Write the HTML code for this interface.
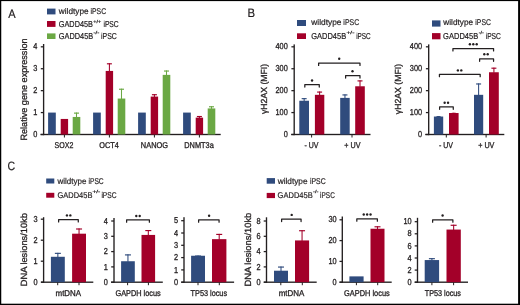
<!DOCTYPE html>
<html><head><meta charset="utf-8"><style>
html,body{margin:0;padding:0;background:#fff;}
svg{display:block;filter:blur(0.3px);}
text{font-family:"Liberation Sans", sans-serif;text-rendering:geometricPrecision;fill:#231f20;stroke:#231f20;stroke-width:0.3px;}
</style></head><body>
<svg width="520" height="305" viewBox="0 0 520 305">
<rect x="0" y="0" width="520" height="305" fill="#fff"/>
<text x="8.14" y="17.75" font-size="12.2" textLength="7.39" lengthAdjust="spacingAndGlyphs" style="stroke-width:0.2px">A</text>
<text x="247.48" y="17.45" font-size="12.1" textLength="7.57" lengthAdjust="spacingAndGlyphs" style="stroke-width:0.2px">B</text>
<text x="7.47" y="169.70" font-size="12.2" textLength="7.62" lengthAdjust="spacingAndGlyphs" style="stroke-width:0.2px">C</text>
<text x="58.85" y="14.10" font-size="8.3" textLength="29.72" lengthAdjust="spacingAndGlyphs" style="stroke-width:0.2px">wildtype</text>
<text x="90.51" y="14.10" font-size="8.3" textLength="15.60" lengthAdjust="spacingAndGlyphs" style="stroke-width:0.2px">iPSC</text>
<text x="58.84" y="26.60" font-size="8.6" textLength="34.07" lengthAdjust="spacingAndGlyphs" style="stroke-width:0.2px">GADD45B</text>
<text x="93.30" y="22.60" font-size="4.2" textLength="8.00" lengthAdjust="spacingAndGlyphs" style="stroke-width:0.22px">+/+</text>
<text x="103.40" y="26.60" font-size="8.6" textLength="15.30" lengthAdjust="spacingAndGlyphs" style="stroke-width:0.2px">iPSC</text>
<text x="58.85" y="38.90" font-size="8.6" textLength="34.29" lengthAdjust="spacingAndGlyphs" style="stroke-width:0.2px">GADD45B</text>
<text x="93.50" y="34.40" font-size="4.2" textLength="5.80" lengthAdjust="spacingAndGlyphs" style="stroke-width:0.22px">-/-</text>
<text x="100.98" y="38.90" font-size="8.6" textLength="15.80" lengthAdjust="spacingAndGlyphs" style="stroke-width:0.2px">iPSC</text>
<text x="311.37" y="25.20" font-size="8.3" textLength="30.02" lengthAdjust="spacingAndGlyphs" style="stroke-width:0.2px">wildtype</text>
<text x="343.36" y="25.20" font-size="8.3" textLength="15.80" lengthAdjust="spacingAndGlyphs" style="stroke-width:0.2px">iPSC</text>
<text x="311.14" y="39.10" font-size="8.6" textLength="35.01" lengthAdjust="spacingAndGlyphs" style="stroke-width:0.2px">GADD45B</text>
<text x="346.50" y="34.10" font-size="4.2" textLength="7.90" lengthAdjust="spacingAndGlyphs" style="stroke-width:0.22px">+/-</text>
<text x="356.21" y="39.10" font-size="8.6" textLength="14.50" lengthAdjust="spacingAndGlyphs" style="stroke-width:0.2px">iPSC</text>
<text x="443.34" y="25.30" font-size="8.3" textLength="29.70" lengthAdjust="spacingAndGlyphs" style="stroke-width:0.2px">wildtype</text>
<text x="475.34" y="25.30" font-size="8.3" textLength="15.60" lengthAdjust="spacingAndGlyphs" style="stroke-width:0.2px">iPSC</text>
<text x="443.10" y="39.10" font-size="8.6" textLength="35.16" lengthAdjust="spacingAndGlyphs" style="stroke-width:0.2px">GADD45B</text>
<text x="478.70" y="34.10" font-size="4.2" textLength="5.20" lengthAdjust="spacingAndGlyphs" style="stroke-width:0.22px">-/-</text>
<text x="485.67" y="39.10" font-size="8.6" textLength="15.20" lengthAdjust="spacingAndGlyphs" style="stroke-width:0.2px">iPSC</text>
<text x="57.50" y="183.60" font-size="8.4" textLength="28.90" lengthAdjust="spacingAndGlyphs" style="stroke-width:0.2px">wildtype</text>
<text x="88.49" y="183.60" font-size="8.4" textLength="15.20" lengthAdjust="spacingAndGlyphs" style="stroke-width:0.2px">iPSC</text>
<text x="57.51" y="197.50" font-size="8.4" textLength="34.88" lengthAdjust="spacingAndGlyphs" style="stroke-width:0.2px">GADD45B</text>
<text x="92.40" y="193.00" font-size="4.2" textLength="7.90" lengthAdjust="spacingAndGlyphs" style="stroke-width:0.22px">+/-</text>
<text x="101.39" y="197.50" font-size="8.4" textLength="15.20" lengthAdjust="spacingAndGlyphs" style="stroke-width:0.2px">iPSC</text>
<text x="277.69" y="183.60" font-size="8.4" textLength="29.89" lengthAdjust="spacingAndGlyphs" style="stroke-width:0.2px">wildtype</text>
<text x="309.93" y="183.60" font-size="8.4" textLength="15.70" lengthAdjust="spacingAndGlyphs" style="stroke-width:0.2px">iPSC</text>
<text x="277.60" y="197.50" font-size="8.4" textLength="35.09" lengthAdjust="spacingAndGlyphs" style="stroke-width:0.2px">GADD45B</text>
<text x="313.10" y="193.00" font-size="4.2" textLength="5.40" lengthAdjust="spacingAndGlyphs" style="stroke-width:0.22px">-/-</text>
<text x="320.10" y="197.50" font-size="8.4" textLength="14.70" lengthAdjust="spacingAndGlyphs" style="stroke-width:0.2px">iPSC</text>
<text x="54.59" y="148.20" font-size="8.4" textLength="18.82" lengthAdjust="spacingAndGlyphs">SOX2</text>
<text x="99.34" y="148.20" font-size="8.4" textLength="19.54" lengthAdjust="spacingAndGlyphs">OCT4</text>
<text x="140.87" y="148.20" font-size="8.4" textLength="27.22" lengthAdjust="spacingAndGlyphs">NANOG</text>
<text x="184.27" y="148.20" font-size="8.4" textLength="29.51" lengthAdjust="spacingAndGlyphs">DNMT3a</text>
<text x="304.45" y="148.00" font-size="8.4" textLength="13.98" lengthAdjust="spacingAndGlyphs">- UV</text>
<text x="344.28" y="148.00" font-size="8.4" textLength="16.15" lengthAdjust="spacingAndGlyphs">+ UV</text>
<text x="438.95" y="148.20" font-size="8.4" textLength="14.08" lengthAdjust="spacingAndGlyphs">- UV</text>
<text x="478.20" y="148.20" font-size="8.4" textLength="16.22" lengthAdjust="spacingAndGlyphs">+ UV</text>
<text x="55.55" y="296.00" font-size="8.4" textLength="25.57" lengthAdjust="spacingAndGlyphs">mtDNA</text>
<text x="115.43" y="296.00" font-size="8.4" textLength="45.36" lengthAdjust="spacingAndGlyphs">GAPDH locus</text>
<text x="190.57" y="296.00" font-size="8.4" textLength="36.49" lengthAdjust="spacingAndGlyphs">TP53 locus</text>
<text x="278.66" y="296.00" font-size="8.4" textLength="25.59" lengthAdjust="spacingAndGlyphs">mtDNA</text>
<text x="344.08" y="296.00" font-size="8.4" textLength="45.62" lengthAdjust="spacingAndGlyphs">GAPDH locus</text>
<text x="424.74" y="296.00" font-size="8.4" textLength="36.23" lengthAdjust="spacingAndGlyphs">TP53 locus</text>
<text transform="translate(26.60,140.54) rotate(-90)" font-size="9.1" textLength="102.08" lengthAdjust="spacingAndGlyphs">Relative gene expression</text>
<text transform="translate(267.00,114.00) rotate(-90)" font-size="8.8" textLength="50.13" lengthAdjust="spacingAndGlyphs">&#947;H2AX (MFI)</text>
<text transform="translate(401.20,114.21) rotate(-90)" font-size="8.8" textLength="50.33" lengthAdjust="spacingAndGlyphs">&#947;H2AX (MFI)</text>
<text transform="translate(27.30,286.24) rotate(-90)" font-size="9.0" textLength="73.16" lengthAdjust="spacingAndGlyphs">DNA lesions/10kb</text>
<text transform="translate(251.40,286.45) rotate(-90)" font-size="9.0" textLength="73.75" lengthAdjust="spacingAndGlyphs">DNA lesions/10kb</text>
<text x="37.30" y="137.15" font-size="8.6" textLength="4.10" lengthAdjust="spacingAndGlyphs" text-anchor="end">0</text>
<text x="37.30" y="115.23" font-size="8.6" textLength="4.10" lengthAdjust="spacingAndGlyphs" text-anchor="end">1</text>
<text x="37.30" y="93.31" font-size="8.6" textLength="4.10" lengthAdjust="spacingAndGlyphs" text-anchor="end">2</text>
<text x="37.30" y="71.39" font-size="8.6" textLength="4.10" lengthAdjust="spacingAndGlyphs" text-anchor="end">3</text>
<text x="37.30" y="49.47" font-size="8.6" textLength="4.10" lengthAdjust="spacingAndGlyphs" text-anchor="end">4</text>
<text x="287.80" y="137.15" font-size="8.6" textLength="4.10" lengthAdjust="spacingAndGlyphs" text-anchor="end">0</text>
<text x="287.80" y="115.23" font-size="8.6" textLength="12.30" lengthAdjust="spacingAndGlyphs" text-anchor="end">100</text>
<text x="287.80" y="93.31" font-size="8.6" textLength="12.30" lengthAdjust="spacingAndGlyphs" text-anchor="end">200</text>
<text x="287.80" y="71.39" font-size="8.6" textLength="12.30" lengthAdjust="spacingAndGlyphs" text-anchor="end">300</text>
<text x="287.80" y="49.47" font-size="8.6" textLength="12.30" lengthAdjust="spacingAndGlyphs" text-anchor="end">400</text>
<text x="422.10" y="137.15" font-size="8.6" textLength="4.10" lengthAdjust="spacingAndGlyphs" text-anchor="end">0</text>
<text x="422.10" y="115.23" font-size="8.6" textLength="12.30" lengthAdjust="spacingAndGlyphs" text-anchor="end">100</text>
<text x="422.10" y="93.31" font-size="8.6" textLength="12.30" lengthAdjust="spacingAndGlyphs" text-anchor="end">200</text>
<text x="422.10" y="71.39" font-size="8.6" textLength="12.30" lengthAdjust="spacingAndGlyphs" text-anchor="end">300</text>
<text x="422.10" y="49.47" font-size="8.6" textLength="12.30" lengthAdjust="spacingAndGlyphs" text-anchor="end">400</text>
<text x="37.60" y="284.85" font-size="8.6" textLength="4.10" lengthAdjust="spacingAndGlyphs" text-anchor="end">0</text>
<text x="37.60" y="263.85" font-size="8.6" textLength="4.10" lengthAdjust="spacingAndGlyphs" text-anchor="end">1</text>
<text x="37.60" y="242.85" font-size="8.6" textLength="4.10" lengthAdjust="spacingAndGlyphs" text-anchor="end">2</text>
<text x="37.60" y="221.85" font-size="8.6" textLength="4.10" lengthAdjust="spacingAndGlyphs" text-anchor="end">3</text>
<text x="107.90" y="284.85" font-size="8.6" textLength="4.10" lengthAdjust="spacingAndGlyphs" text-anchor="end">0</text>
<text x="107.90" y="269.55" font-size="8.6" textLength="4.10" lengthAdjust="spacingAndGlyphs" text-anchor="end">1</text>
<text x="107.90" y="254.25" font-size="8.6" textLength="4.10" lengthAdjust="spacingAndGlyphs" text-anchor="end">2</text>
<text x="107.90" y="238.95" font-size="8.6" textLength="4.10" lengthAdjust="spacingAndGlyphs" text-anchor="end">3</text>
<text x="107.90" y="223.65" font-size="8.6" textLength="4.10" lengthAdjust="spacingAndGlyphs" text-anchor="end">4</text>
<text x="178.20" y="284.85" font-size="8.6" textLength="4.10" lengthAdjust="spacingAndGlyphs" text-anchor="end">0</text>
<text x="178.20" y="272.55" font-size="8.6" textLength="4.10" lengthAdjust="spacingAndGlyphs" text-anchor="end">1</text>
<text x="178.20" y="260.25" font-size="8.6" textLength="4.10" lengthAdjust="spacingAndGlyphs" text-anchor="end">2</text>
<text x="178.20" y="247.95" font-size="8.6" textLength="4.10" lengthAdjust="spacingAndGlyphs" text-anchor="end">3</text>
<text x="178.20" y="235.65" font-size="8.6" textLength="4.10" lengthAdjust="spacingAndGlyphs" text-anchor="end">4</text>
<text x="178.20" y="223.35" font-size="8.6" textLength="4.10" lengthAdjust="spacingAndGlyphs" text-anchor="end">5</text>
<text x="260.60" y="284.85" font-size="8.6" textLength="4.10" lengthAdjust="spacingAndGlyphs" text-anchor="end">0</text>
<text x="260.60" y="269.55" font-size="8.6" textLength="4.10" lengthAdjust="spacingAndGlyphs" text-anchor="end">2</text>
<text x="260.60" y="254.25" font-size="8.6" textLength="4.10" lengthAdjust="spacingAndGlyphs" text-anchor="end">4</text>
<text x="260.60" y="238.95" font-size="8.6" textLength="4.10" lengthAdjust="spacingAndGlyphs" text-anchor="end">6</text>
<text x="260.60" y="223.65" font-size="8.6" textLength="4.10" lengthAdjust="spacingAndGlyphs" text-anchor="end">8</text>
<text x="336.70" y="284.85" font-size="8.6" textLength="4.10" lengthAdjust="spacingAndGlyphs" text-anchor="end">0</text>
<text x="336.70" y="264.05" font-size="8.6" textLength="8.20" lengthAdjust="spacingAndGlyphs" text-anchor="end">10</text>
<text x="336.70" y="243.25" font-size="8.6" textLength="8.20" lengthAdjust="spacingAndGlyphs" text-anchor="end">20</text>
<text x="336.70" y="222.45" font-size="8.6" textLength="8.20" lengthAdjust="spacingAndGlyphs" text-anchor="end">30</text>
<text x="411.70" y="284.85" font-size="8.6" textLength="4.10" lengthAdjust="spacingAndGlyphs" text-anchor="end">0</text>
<text x="411.70" y="272.75" font-size="8.6" textLength="4.10" lengthAdjust="spacingAndGlyphs" text-anchor="end">2</text>
<text x="411.70" y="260.65" font-size="8.6" textLength="4.10" lengthAdjust="spacingAndGlyphs" text-anchor="end">4</text>
<text x="411.70" y="248.55" font-size="8.6" textLength="4.10" lengthAdjust="spacingAndGlyphs" text-anchor="end">6</text>
<text x="411.70" y="236.45" font-size="8.6" textLength="4.10" lengthAdjust="spacingAndGlyphs" text-anchor="end">8</text>
<text x="411.70" y="224.35" font-size="8.6" textLength="8.20" lengthAdjust="spacingAndGlyphs" text-anchor="end">10</text>
<rect x="47.00" y="8.60" width="8.50" height="5.80" fill="#2f4b7d"/>
<rect x="47.00" y="21.00" width="8.50" height="5.90" fill="#a30029"/>
<rect x="47.00" y="33.40" width="8.50" height="5.60" fill="#6ba844"/>
<rect x="297.00" y="20.00" width="9.00" height="6.00" fill="#2f4b7d"/>
<rect x="297.00" y="33.30" width="9.00" height="5.70" fill="#a30029"/>
<rect x="432.00" y="20.40" width="8.50" height="6.20" fill="#2f4b7d"/>
<rect x="432.00" y="33.10" width="8.50" height="6.20" fill="#a30029"/>
<rect x="46.20" y="178.50" width="8.10" height="5.00" fill="#2f4b7d"/>
<rect x="46.20" y="192.80" width="8.10" height="4.90" fill="#a30029"/>
<rect x="266.70" y="178.10" width="8.30" height="5.60" fill="#2f4b7d"/>
<rect x="266.70" y="192.90" width="8.30" height="5.20" fill="#a30029"/>
<rect x="42.93" y="44.00" width="1.35" height="91.18" fill="#231f20"/>
<rect x="40.80" y="133.88" width="2.80" height="1.25" fill="#231f20"/>
<rect x="40.80" y="111.95" width="2.80" height="1.25" fill="#231f20"/>
<rect x="40.80" y="90.03" width="2.80" height="1.25" fill="#231f20"/>
<rect x="40.80" y="68.11" width="2.80" height="1.25" fill="#231f20"/>
<rect x="40.80" y="46.19" width="2.80" height="1.25" fill="#231f20"/>
<rect x="40.50" y="133.82" width="180.20" height="1.35" fill="#231f20"/>
<rect x="63.90" y="134.50" width="1.00" height="3.00" fill="#231f20"/>
<rect x="108.90" y="134.50" width="1.00" height="3.00" fill="#231f20"/>
<rect x="153.90" y="134.50" width="1.00" height="3.00" fill="#231f20"/>
<rect x="198.90" y="134.50" width="1.00" height="3.00" fill="#231f20"/>
<rect x="48.10" y="112.58" width="7.70" height="21.92" fill="#2f4b7d"/>
<rect x="60.70" y="118.94" width="7.40" height="15.56" fill="#a30029"/>
<rect x="72.70" y="116.96" width="7.60" height="17.54" fill="#6ba844"/>
<rect x="75.97" y="112.58" width="1.05" height="4.88" fill="#6ba844"/>
<rect x="74.00" y="112.55" width="5.00" height="1.15" fill="#6ba844"/>
<rect x="93.10" y="112.58" width="7.70" height="21.92" fill="#2f4b7d"/>
<rect x="105.70" y="70.93" width="7.40" height="63.57" fill="#a30029"/>
<rect x="108.88" y="63.26" width="1.05" height="8.17" fill="#a30029"/>
<rect x="106.90" y="63.23" width="5.00" height="1.15" fill="#a30029"/>
<rect x="117.70" y="98.55" width="7.60" height="35.95" fill="#6ba844"/>
<rect x="120.97" y="88.69" width="1.05" height="10.36" fill="#6ba844"/>
<rect x="119.00" y="88.66" width="5.00" height="1.15" fill="#6ba844"/>
<rect x="138.10" y="112.58" width="7.70" height="21.92" fill="#2f4b7d"/>
<rect x="150.70" y="96.58" width="7.40" height="37.92" fill="#a30029"/>
<rect x="153.87" y="94.17" width="1.05" height="2.91" fill="#a30029"/>
<rect x="151.90" y="94.14" width="5.00" height="1.15" fill="#a30029"/>
<rect x="162.70" y="74.88" width="7.60" height="59.62" fill="#6ba844"/>
<rect x="165.97" y="70.49" width="1.05" height="4.88" fill="#6ba844"/>
<rect x="164.00" y="70.47" width="5.00" height="1.15" fill="#6ba844"/>
<rect x="183.10" y="112.58" width="7.70" height="21.92" fill="#2f4b7d"/>
<rect x="195.70" y="117.62" width="7.40" height="16.88" fill="#a30029"/>
<rect x="198.87" y="115.98" width="1.05" height="2.14" fill="#a30029"/>
<rect x="196.90" y="115.95" width="5.00" height="1.15" fill="#a30029"/>
<rect x="207.70" y="108.42" width="7.60" height="26.08" fill="#6ba844"/>
<rect x="210.97" y="106.22" width="1.05" height="2.69" fill="#6ba844"/>
<rect x="209.00" y="106.20" width="5.00" height="1.15" fill="#6ba844"/>
<rect x="293.52" y="44.40" width="1.35" height="90.78" fill="#231f20"/>
<rect x="291.40" y="133.88" width="2.80" height="1.25" fill="#231f20"/>
<rect x="291.40" y="111.95" width="2.80" height="1.25" fill="#231f20"/>
<rect x="291.40" y="90.03" width="2.80" height="1.25" fill="#231f20"/>
<rect x="291.40" y="68.11" width="2.80" height="1.25" fill="#231f20"/>
<rect x="291.40" y="46.19" width="2.80" height="1.25" fill="#231f20"/>
<rect x="291.20" y="133.82" width="79.30" height="1.35" fill="#231f20"/>
<rect x="311.10" y="134.50" width="1.00" height="3.00" fill="#231f20"/>
<rect x="351.50" y="134.50" width="1.00" height="3.00" fill="#231f20"/>
<rect x="299.30" y="100.74" width="9.70" height="33.76" fill="#2f4b7d"/>
<rect x="303.62" y="98.11" width="1.05" height="3.13" fill="#2f4b7d"/>
<rect x="301.65" y="98.09" width="5.00" height="1.15" fill="#2f4b7d"/>
<rect x="314.90" y="94.82" width="9.40" height="39.68" fill="#a30029"/>
<rect x="319.08" y="91.54" width="1.05" height="3.79" fill="#a30029"/>
<rect x="317.10" y="91.51" width="5.00" height="1.15" fill="#a30029"/>
<rect x="340.20" y="97.89" width="9.50" height="36.61" fill="#2f4b7d"/>
<rect x="344.43" y="94.39" width="1.05" height="4.01" fill="#2f4b7d"/>
<rect x="342.45" y="94.36" width="5.00" height="1.15" fill="#2f4b7d"/>
<rect x="355.20" y="86.28" width="9.60" height="48.22" fill="#a30029"/>
<rect x="359.48" y="80.36" width="1.05" height="6.42" fill="#a30029"/>
<rect x="357.50" y="80.33" width="5.00" height="1.15" fill="#a30029"/>
<path d="M304.82,87.00 L304.82,84.60 L319.27,84.60 L319.27,87.00" fill="none" stroke="#231f20" stroke-width="1.25" stroke-linejoin="round" stroke-linecap="round"/>
<circle cx="312.05" cy="80.55" r="1.2" fill="#231f20"/>
<path d="M318.62,65.40 L318.62,63.00 L359.98,63.00 L359.98,65.40" fill="none" stroke="#231f20" stroke-width="1.25" stroke-linejoin="round" stroke-linecap="round"/>
<circle cx="339.20" cy="58.70" r="1.2" fill="#231f20"/>
<path d="M345.62,78.00 L345.62,75.60 L359.98,75.60 L359.98,78.00" fill="none" stroke="#231f20" stroke-width="1.25" stroke-linejoin="round" stroke-linecap="round"/>
<circle cx="352.50" cy="71.20" r="1.2" fill="#231f20"/>
<rect x="428.02" y="44.40" width="1.35" height="90.78" fill="#231f20"/>
<rect x="425.90" y="133.88" width="2.80" height="1.25" fill="#231f20"/>
<rect x="425.90" y="111.95" width="2.80" height="1.25" fill="#231f20"/>
<rect x="425.90" y="90.03" width="2.80" height="1.25" fill="#231f20"/>
<rect x="425.90" y="68.11" width="2.80" height="1.25" fill="#231f20"/>
<rect x="425.90" y="46.19" width="2.80" height="1.25" fill="#231f20"/>
<rect x="425.20" y="133.82" width="79.10" height="1.35" fill="#231f20"/>
<rect x="445.80" y="134.50" width="1.00" height="3.00" fill="#231f20"/>
<rect x="485.60" y="134.50" width="1.00" height="3.00" fill="#231f20"/>
<rect x="433.90" y="116.53" width="9.30" height="17.97" fill="#2f4b7d"/>
<rect x="438.02" y="116.09" width="1.05" height="0.94" fill="#2f4b7d"/>
<rect x="436.55" y="116.06" width="4.00" height="1.15" fill="#2f4b7d"/>
<rect x="449.00" y="113.02" width="9.60" height="21.48" fill="#a30029"/>
<rect x="453.28" y="112.80" width="1.05" height="0.72" fill="#a30029"/>
<rect x="451.80" y="112.77" width="4.00" height="1.15" fill="#a30029"/>
<rect x="474.00" y="94.82" width="9.20" height="39.68" fill="#2f4b7d"/>
<rect x="478.08" y="83.43" width="1.05" height="11.90" fill="#2f4b7d"/>
<rect x="476.10" y="83.40" width="5.00" height="1.15" fill="#2f4b7d"/>
<rect x="489.00" y="72.25" width="9.80" height="62.25" fill="#a30029"/>
<rect x="493.38" y="67.64" width="1.05" height="5.10" fill="#a30029"/>
<rect x="491.40" y="67.62" width="5.00" height="1.15" fill="#a30029"/>
<path d="M439.62,109.30 L439.62,106.90 L453.27,106.90 L453.27,109.30" fill="none" stroke="#231f20" stroke-width="1.25" stroke-linejoin="round" stroke-linecap="round"/>
<circle cx="444.65" cy="102.70" r="1.2" fill="#231f20"/>
<circle cx="448.05" cy="102.70" r="1.2" fill="#231f20"/>
<path d="M439.43,76.70 L439.43,74.30 L480.18,74.30 L480.18,76.70" fill="none" stroke="#231f20" stroke-width="1.25" stroke-linejoin="round" stroke-linecap="round"/>
<circle cx="457.90" cy="70.40" r="1.2" fill="#231f20"/>
<circle cx="461.30" cy="70.40" r="1.2" fill="#231f20"/>
<path d="M452.93,50.90 L452.93,48.50 L493.57,48.50 L493.57,50.90" fill="none" stroke="#231f20" stroke-width="1.25" stroke-linejoin="round" stroke-linecap="round"/>
<circle cx="469.90" cy="44.25" r="1.2" fill="#231f20"/>
<circle cx="473.30" cy="44.25" r="1.2" fill="#231f20"/>
<circle cx="476.70" cy="44.25" r="1.2" fill="#231f20"/>
<path d="M479.62,61.30 L479.62,58.90 L493.57,58.90 L493.57,61.30" fill="none" stroke="#231f20" stroke-width="1.25" stroke-linejoin="round" stroke-linecap="round"/>
<circle cx="484.30" cy="54.30" r="1.2" fill="#231f20"/>
<circle cx="487.70" cy="54.30" r="1.2" fill="#231f20"/>
<rect x="42.93" y="217.20" width="1.35" height="65.68" fill="#231f20"/>
<rect x="40.80" y="281.57" width="2.80" height="1.25" fill="#231f20"/>
<rect x="40.80" y="260.57" width="2.80" height="1.25" fill="#231f20"/>
<rect x="40.80" y="239.57" width="2.80" height="1.25" fill="#231f20"/>
<rect x="40.80" y="218.57" width="2.80" height="1.25" fill="#231f20"/>
<rect x="41.00" y="281.52" width="52.30" height="1.35" fill="#231f20"/>
<rect x="57.20" y="282.20" width="1.00" height="3.00" fill="#231f20"/>
<rect x="78.50" y="282.20" width="1.00" height="3.00" fill="#231f20"/>
<rect x="50.90" y="256.79" width="13.90" height="25.41" fill="#2f4b7d"/>
<rect x="57.32" y="252.80" width="1.05" height="4.49" fill="#2f4b7d"/>
<rect x="54.85" y="252.78" width="6.00" height="1.15" fill="#2f4b7d"/>
<rect x="72.10" y="233.69" width="13.90" height="48.51" fill="#a30029"/>
<rect x="78.52" y="228.44" width="1.05" height="5.75" fill="#a30029"/>
<rect x="76.05" y="228.42" width="6.00" height="1.15" fill="#a30029"/>
<path d="M58.62,221.90 L58.62,219.50 L78.28,219.50 L78.28,221.90" fill="none" stroke="#231f20" stroke-width="1.25" stroke-linejoin="round" stroke-linecap="round"/>
<circle cx="66.95" cy="215.40" r="1.2" fill="#231f20"/>
<circle cx="70.35" cy="215.40" r="1.2" fill="#231f20"/>
<rect x="113.33" y="218.00" width="1.35" height="64.88" fill="#231f20"/>
<rect x="111.20" y="281.57" width="2.80" height="1.25" fill="#231f20"/>
<rect x="111.20" y="266.27" width="2.80" height="1.25" fill="#231f20"/>
<rect x="111.20" y="250.97" width="2.80" height="1.25" fill="#231f20"/>
<rect x="111.20" y="235.67" width="2.80" height="1.25" fill="#231f20"/>
<rect x="111.20" y="220.38" width="2.80" height="1.25" fill="#231f20"/>
<rect x="111.00" y="281.52" width="51.80" height="1.35" fill="#231f20"/>
<rect x="127.10" y="282.20" width="1.00" height="3.00" fill="#231f20"/>
<rect x="147.90" y="282.20" width="1.00" height="3.00" fill="#231f20"/>
<rect x="121.10" y="261.24" width="13.70" height="20.96" fill="#2f4b7d"/>
<rect x="127.42" y="254.35" width="1.05" height="7.38" fill="#2f4b7d"/>
<rect x="124.95" y="254.33" width="6.00" height="1.15" fill="#2f4b7d"/>
<rect x="141.50" y="234.92" width="13.60" height="47.28" fill="#a30029"/>
<rect x="147.78" y="230.03" width="1.05" height="5.40" fill="#a30029"/>
<rect x="145.30" y="230.00" width="6.00" height="1.15" fill="#a30029"/>
<path d="M126.62,222.20 L126.62,219.80 L149.38,219.80 L149.38,222.20" fill="none" stroke="#231f20" stroke-width="1.25" stroke-linejoin="round" stroke-linecap="round"/>
<circle cx="136.30" cy="216.00" r="1.2" fill="#231f20"/>
<circle cx="139.70" cy="216.00" r="1.2" fill="#231f20"/>
<rect x="183.32" y="217.20" width="1.35" height="65.68" fill="#231f20"/>
<rect x="181.20" y="281.57" width="2.80" height="1.25" fill="#231f20"/>
<rect x="181.20" y="269.27" width="2.80" height="1.25" fill="#231f20"/>
<rect x="181.20" y="256.97" width="2.80" height="1.25" fill="#231f20"/>
<rect x="181.20" y="244.67" width="2.80" height="1.25" fill="#231f20"/>
<rect x="181.20" y="232.38" width="2.80" height="1.25" fill="#231f20"/>
<rect x="181.20" y="220.07" width="2.80" height="1.25" fill="#231f20"/>
<rect x="181.20" y="281.52" width="52.90" height="1.35" fill="#231f20"/>
<rect x="197.50" y="282.20" width="1.00" height="3.00" fill="#231f20"/>
<rect x="218.80" y="282.20" width="1.00" height="3.00" fill="#231f20"/>
<rect x="191.10" y="255.75" width="13.90" height="26.44" fill="#2f4b7d"/>
<rect x="197.53" y="255.51" width="1.05" height="0.75" fill="#2f4b7d"/>
<rect x="195.05" y="255.48" width="6.00" height="1.15" fill="#2f4b7d"/>
<rect x="212.00" y="239.15" width="14.40" height="43.05" fill="#a30029"/>
<rect x="218.67" y="233.86" width="1.05" height="5.79" fill="#a30029"/>
<rect x="216.20" y="233.84" width="6.00" height="1.15" fill="#a30029"/>
<path d="M198.62,222.20 L198.62,219.80 L219.07,219.80 L219.07,222.20" fill="none" stroke="#231f20" stroke-width="1.25" stroke-linejoin="round" stroke-linecap="round"/>
<circle cx="209.10" cy="215.70" r="1.2" fill="#231f20"/>
<rect x="265.82" y="217.30" width="1.35" height="65.57" fill="#231f20"/>
<rect x="263.70" y="281.57" width="2.80" height="1.25" fill="#231f20"/>
<rect x="263.70" y="266.27" width="2.80" height="1.25" fill="#231f20"/>
<rect x="263.70" y="250.97" width="2.80" height="1.25" fill="#231f20"/>
<rect x="263.70" y="235.67" width="2.80" height="1.25" fill="#231f20"/>
<rect x="263.70" y="220.38" width="2.80" height="1.25" fill="#231f20"/>
<rect x="263.80" y="281.52" width="52.90" height="1.35" fill="#231f20"/>
<rect x="280.30" y="282.20" width="1.00" height="3.00" fill="#231f20"/>
<rect x="301.80" y="282.20" width="1.00" height="3.00" fill="#231f20"/>
<rect x="274.00" y="270.72" width="14.00" height="11.48" fill="#2f4b7d"/>
<rect x="280.48" y="266.52" width="1.05" height="4.71" fill="#2f4b7d"/>
<rect x="278.00" y="266.49" width="6.00" height="1.15" fill="#2f4b7d"/>
<rect x="295.00" y="240.43" width="14.10" height="41.77" fill="#a30029"/>
<rect x="301.53" y="230.18" width="1.05" height="10.75" fill="#a30029"/>
<rect x="299.05" y="230.16" width="6.00" height="1.15" fill="#a30029"/>
<path d="M281.62,221.50 L281.62,219.10 L301.07,219.10 L301.07,221.50" fill="none" stroke="#231f20" stroke-width="1.25" stroke-linejoin="round" stroke-linecap="round"/>
<circle cx="291.70" cy="214.90" r="1.2" fill="#231f20"/>
<rect x="341.62" y="216.50" width="1.35" height="66.38" fill="#231f20"/>
<rect x="339.50" y="281.57" width="2.80" height="1.25" fill="#231f20"/>
<rect x="339.50" y="260.77" width="2.80" height="1.25" fill="#231f20"/>
<rect x="339.50" y="239.97" width="2.80" height="1.25" fill="#231f20"/>
<rect x="339.50" y="219.17" width="2.80" height="1.25" fill="#231f20"/>
<rect x="339.50" y="281.52" width="52.20" height="1.35" fill="#231f20"/>
<rect x="355.90" y="282.20" width="1.00" height="3.00" fill="#231f20"/>
<rect x="377.20" y="282.20" width="1.00" height="3.00" fill="#231f20"/>
<rect x="349.40" y="276.38" width="14.20" height="5.82" fill="#2f4b7d"/>
<rect x="370.50" y="228.74" width="14.00" height="53.46" fill="#a30029"/>
<rect x="376.98" y="226.25" width="1.05" height="3.00" fill="#a30029"/>
<rect x="374.50" y="226.22" width="6.00" height="1.15" fill="#a30029"/>
<path d="M356.82,221.20 L356.82,218.80 L377.38,218.80 L377.38,221.20" fill="none" stroke="#231f20" stroke-width="1.25" stroke-linejoin="round" stroke-linecap="round"/>
<circle cx="363.75" cy="214.50" r="1.2" fill="#231f20"/>
<circle cx="367.15" cy="214.50" r="1.2" fill="#231f20"/>
<circle cx="370.55" cy="214.50" r="1.2" fill="#231f20"/>
<rect x="416.82" y="217.80" width="1.35" height="65.07" fill="#231f20"/>
<rect x="414.70" y="281.57" width="2.80" height="1.25" fill="#231f20"/>
<rect x="414.70" y="269.47" width="2.80" height="1.25" fill="#231f20"/>
<rect x="414.70" y="257.38" width="2.80" height="1.25" fill="#231f20"/>
<rect x="414.70" y="245.27" width="2.80" height="1.25" fill="#231f20"/>
<rect x="414.70" y="233.17" width="2.80" height="1.25" fill="#231f20"/>
<rect x="414.70" y="221.07" width="2.80" height="1.25" fill="#231f20"/>
<rect x="414.70" y="281.52" width="53.30" height="1.35" fill="#231f20"/>
<rect x="431.40" y="282.20" width="1.00" height="3.00" fill="#231f20"/>
<rect x="453.10" y="282.20" width="1.00" height="3.00" fill="#231f20"/>
<rect x="424.70" y="260.06" width="14.40" height="22.14" fill="#2f4b7d"/>
<rect x="431.38" y="258.12" width="1.05" height="2.44" fill="#2f4b7d"/>
<rect x="428.90" y="258.10" width="6.00" height="1.15" fill="#2f4b7d"/>
<rect x="446.50" y="229.56" width="14.30" height="52.63" fill="#a30029"/>
<rect x="453.12" y="224.72" width="1.05" height="5.34" fill="#a30029"/>
<rect x="450.65" y="224.70" width="6.00" height="1.15" fill="#a30029"/>
<path d="M432.62,222.20 L432.62,219.80 L452.88,219.80 L452.88,222.20" fill="none" stroke="#231f20" stroke-width="1.25" stroke-linejoin="round" stroke-linecap="round"/>
<circle cx="442.60" cy="215.50" r="1.2" fill="#231f20"/>
<rect x="0.00" y="0.00" width="520.00" height="1.10" fill="#000"/>
<rect x="0.00" y="0.00" width="1.25" height="305.00" fill="#000"/>
<rect x="518.10" y="0.00" width="1.90" height="305.00" fill="#000"/>
<rect x="0.00" y="303.70" width="520.00" height="1.30" fill="#000"/>
</svg>
</body></html>
